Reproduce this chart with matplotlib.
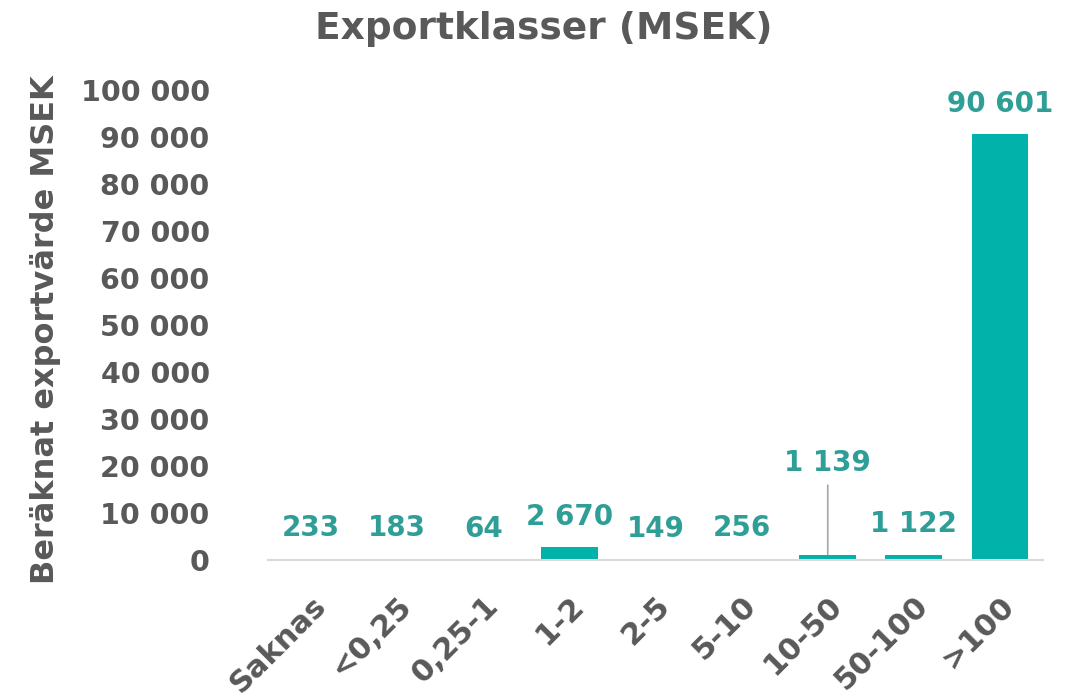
import matplotlib
matplotlib.use("Agg")
import matplotlib.pyplot as plt

categories = ["Saknas", "<0,25", "0,25-1", "1-2", "2-5", "5-10", "10-50", "50-100", ">100"]
values = [233, 183, 64, 2670, 149, 256, 1139, 1122, 90601]
yticks = [0, 10000, 20000, 30000, 40000, 50000, 60000, 70000, 80000, 90000, 100000]

BAR = "#00B2A9"
LAB = "#2E9E96"
GREY = "#595959"
FONT = ["DejaVu Sans"]

def fmt(v):
    return f"{v:,.0f}".replace(",", " ")

fig = plt.figure(figsize=(10.82, 6.99), dpi=100)
ax = fig.add_axes([0.2477, 0.199, 0.7163, 0.672])
x = list(range(len(categories)))
ax.bar(x, values, width=0.66, color=BAR)
ax.set_xlim(-0.5, len(categories) - 0.5)
ax.set_ylim(0, 100000)
ax.set_yticks(yticks)
ax.set_yticklabels([fmt(v) for v in yticks], fontsize=20.5, fontweight="bold",
                   color=GREY, family=FONT)
ax.set_xticks(x)
ax.set_xticklabels(categories, rotation=45, ha="right", rotation_mode="anchor",
                   fontsize=22, fontweight="bold", color=GREY, family=FONT)
ax.tick_params(axis="both", length=0)
ax.tick_params(axis="y", pad=42)
ax.tick_params(axis="x", pad=22)
for s in ["top", "right", "left"]:
    ax.spines[s].set_visible(False)
ax.spines["bottom"].set_color("#D9D9D9")
ax.spines["bottom"].set_linewidth(1.5)

for i, v in enumerate(values):
    if categories[i] == "10-50":
        ax.annotate(fmt(v), xy=(i, v), xytext=(0, 56), textcoords="offset points",
                    ha="center", va="bottom", fontsize=20, fontweight="bold",
                    color=LAB, family=FONT)
        ax.annotate("", xy=(i, v), xytext=(0, 50), textcoords="offset points",
                    arrowprops=dict(arrowstyle="-", color="#A6A6A6", lw=1.2,
                                    shrinkA=0, shrinkB=0))
    else:
        ax.annotate(fmt(v), xy=(i, v), xytext=(0, 12), textcoords="offset points",
                    ha="center", va="bottom", fontsize=20, fontweight="bold",
                    color=LAB, family=FONT)

fig.text(0.0425, 0.528, "Beräknat exportvärde MSEK", rotation=90, ha="center",
         va="center", fontsize=23, fontweight="bold", color=GREY, family=FONT)
fig.text(0.503, 0.958, "Exportklasser (MSEK)", ha="center", va="center",
         fontsize=27, fontweight="bold", color=GREY, family=FONT)

fig.savefig("out.png", dpi=100)
